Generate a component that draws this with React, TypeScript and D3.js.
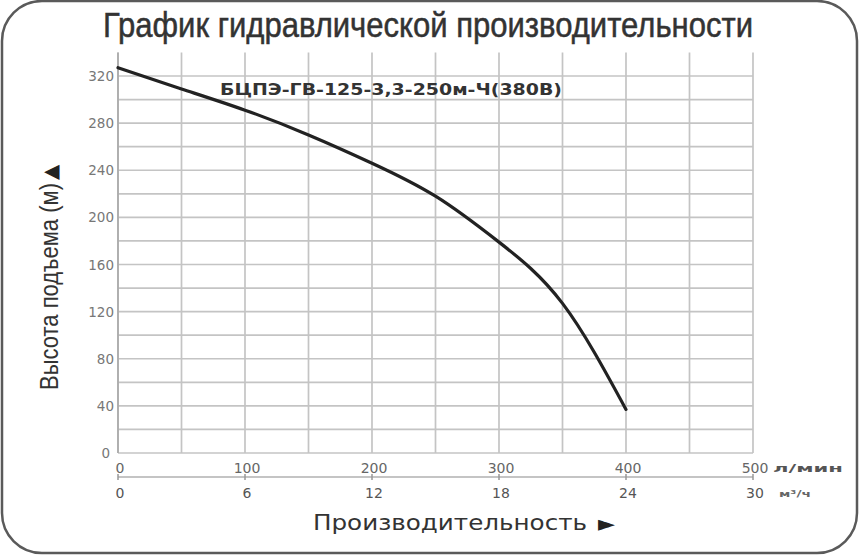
import React from "react";
import * as d3 from "d3";

const flowLpm = [0, 50, 100, 150, 200, 250, 300, 350, 400];
const headM = [327, 309, 291, 270, 246, 218, 179, 127, 37];
const yTicks = [0, 40, 80, 120, 160, 200, 240, 280, 320];
const yGrid = d3.range(0, 321, 20);
const xGrid = d3.range(0, 501, 50);
const xTicksLpm = [0, 100, 200, 300, 400, 500];
const xTicksM3h = ["0", "6", "12", "18", "24", "30"];
const title = "График гидравлической производительности";
const seriesName = "БЦПЭ-ГВ-125-3,3-250м-Ч(380В)";
const yLabel = "Высота подъема (м)";
const xLabel = "Производительность";

export default function App() {
  const x = d3.scaleLinear().domain([0, 500]).range([118, 753]);
  const y = d3.scaleLinear().domain([0, 320]).range([453, 76]);
  const pts = flowLpm.map((q, i) => [q, headM[i]] as [number, number]);
  const line = d3
    .line<[number, number]>()
    .x((d) => x(d[0]))
    .y((d) => y(d[1]))
    .curve(d3.curveNatural);
  const narrow = "'Liberation Sans Narrow', 'Liberation Sans', Arial, sans-serif";
  const wide = "'DejaVu Sans', Verdana, sans-serif";
  const axisY = 477;
  return (
    <svg
      width={862}
      height={558}
      style={{ position: "absolute", left: 0, top: 0, background: "#fff" }}
    >
      <rect x={2} y={1} width={855} height={552} rx={40} ry={40} fill="#fff" stroke="#5a5a5a" strokeWidth={2.5} />
      <text x={103} y={37} fontFamily={narrow} fontSize={35} fill="#333" stroke="#333" strokeWidth={0.5} textLength={650} lengthAdjust="spacingAndGlyphs">
        {title}
      </text>
      {/* grid */}
      {yGrid.map((v) => (
        <line key={"h" + v} x1={x(0)} x2={x(500)} y1={y(v)} y2={y(v)} stroke="#c4c4c4" strokeWidth={1.7} />
      ))}
      {xGrid.map((v) => (
        <line key={"v" + v} x1={x(v)} x2={x(v)} y1={y(0)} y2={y(340)} stroke="#c4c4c4" strokeWidth={1.7} />
      ))}
      <line x1={x(0)} x2={x(0)} y1={y(0)} y2={y(340)} stroke="#aaa" strokeWidth={1.7} />
      {/* y tick labels */}
      {yTicks.map((v) => (
        <text key={"yt" + v} x={v === 0 ? 110 : 114} y={y(v) + 5} textAnchor="end" fontFamily={wide} fontSize={13.5} fill="#777">
          {v}
        </text>
      ))}
      {/* x axis */}
      <line x1={x(0)} x2={x(500)} y1={axisY} y2={axisY} stroke="#b0b0b0" strokeWidth={1.5} />
      {xTicksLpm.map((v, i) => (
        <g key={"xt" + v}>
          <line x1={x(v)} x2={x(v)} y1={axisY - 3} y2={axisY + 3} stroke="#999" strokeWidth={1.5} />
          <text x={x(v) + 2} y={473} textAnchor="middle" fontFamily={wide} fontSize={14} fill="#666">
            {v}
          </text>
          <text x={x(v) + 2} y={498} textAnchor="middle" fontFamily={wide} fontSize={14} fill="#555">
            {xTicksM3h[i]}
          </text>
        </g>
      ))}
      <text x={773} y={472} fontFamily={wide} fontWeight="bold" fontSize={10.5} fill="#555" textLength={70} lengthAdjust="spacingAndGlyphs">
        л/мин
      </text>
      <text x={779} y={497} fontFamily={wide} fontWeight="bold" fontSize={8.5} fill="#666" textLength={32} lengthAdjust="spacingAndGlyphs">
        м³/ч
      </text>
      {/* curve */}
      <path d={line(pts) || ""} fill="none" stroke="#222" strokeWidth={3.2} strokeLinecap="round" />
      <text x={220} y={95} fontFamily={wide} fontWeight="bold" fontSize={15} fill="#333" textLength={342} lengthAdjust="spacingAndGlyphs">
        {seriesName}
      </text>
      {/* axis titles */}
      <text x={313} y={530} fontFamily={wide} fontSize={21} fill="#333" textLength={274} lengthAdjust="spacingAndGlyphs">
        {xLabel}
      </text>
      <text x={598} y={531} fontFamily={wide} fontSize={22} fill="#222">►</text>
      <g transform="translate(58,390) rotate(-90)">
        <text x={0} y={0} fontFamily={narrow} fontSize={26} fill="#333" textLength={207} lengthAdjust="spacingAndGlyphs">
          {yLabel}
        </text>
        <text x={210} y={-1} fontFamily={wide} fontSize={20} fill="#222">▲</text>
      </g>
    </svg>
  );
}
